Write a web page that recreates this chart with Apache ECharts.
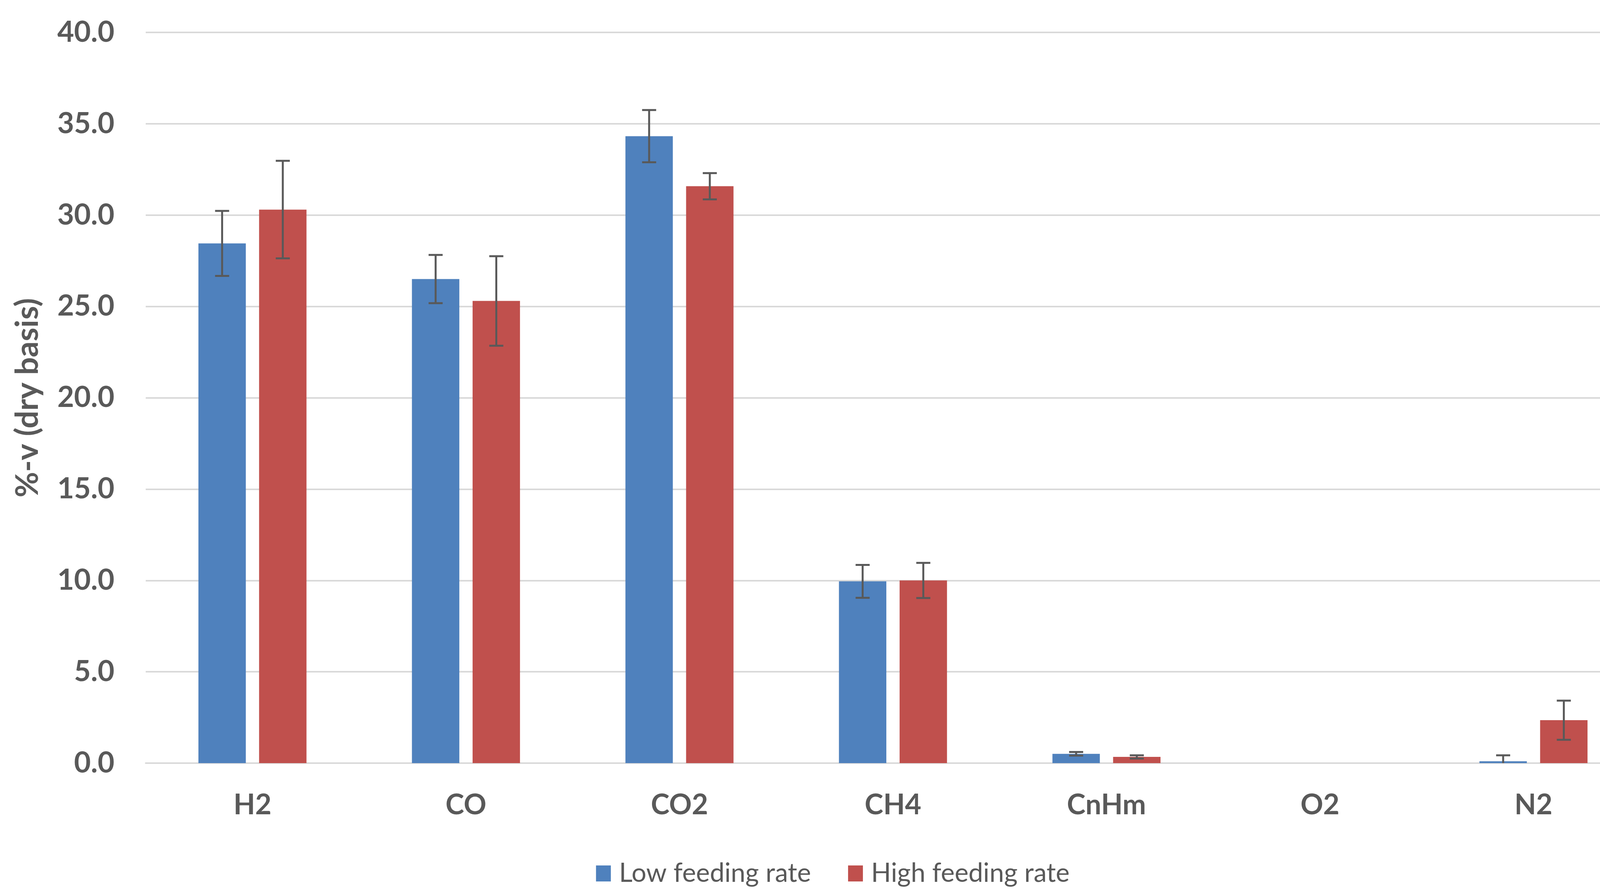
<!DOCTYPE html>
<html>
<head>
<meta charset="utf-8">
<script src="https://cdn.jsdelivr.net/npm/echarts@6/dist/echarts.min.js"></script>
<style>html,body{margin:0;padding:0;background:#fff;}#c{width:4264px;height:2284px;}</style>
</head>
<body>
<div id="c"></div>
<script>
const categories = ['H2', 'CO', 'CO2', 'CH4', 'CnHm', 'O2', 'N2'];
const lowMean  = [28.45, 26.5, 34.32, 9.95, 0.51, 0, 0.1];
const lowErr   = [1.78, 1.32, 1.43, 0.9, 0.1, 0, 0.33];
const highMean = [30.3, 25.3, 31.58, 10.0, 0.34, 0, 2.35];
const highErr  = [2.67, 2.45, 0.72, 0.96, 0.09, 0, 1.07];
const yTicks = [0, 5, 10, 15, 20, 25, 30, 35, 40];

const BAR_W = 0.222, BAR_GAP = 0.28;
const FONT = 'Lato';

function errData(mean, err) {
  return mean.map((m, i) => [i, m - err[i], m + err[i], err[i]]);
}
function errRender(sign) {
  return function (params, api) {
    if (api.value(3) <= 0) return null;
    const i = api.value(0);
    const band = api.size([1, 0])[0];
    const w = band * BAR_W;
    const off = sign * (w + BAR_GAP * w) / 2;
    const lo = api.coord([i, api.value(1)]);
    const hi = api.coord([i, api.value(2)]);
    const x = lo[0] + off;
    const cap = 18;
    const style = { stroke: '#595959', lineWidth: 5 };
    return {
      type: 'group',
      children: [
        { type: 'line', shape: { x1: x, y1: hi[1], x2: x, y2: lo[1] }, style },
        { type: 'line', shape: { x1: x - cap, y1: hi[1], x2: x + cap, y2: hi[1] }, style },
        { type: 'line', shape: { x1: x - cap, y1: lo[1], x2: x + cap, y2: lo[1] }, style }
      ]
    };
  };
}

const chart = echarts.init(document.getElementById('c'));
chart.setOption({
  backgroundColor: '#ffffff',
  animation: false,
  textStyle: { fontFamily: FONT },
  grid: { left: 373, right: 65, top: 83, bottom: 330, containLabel: false },
  legend: {
    data: ['Low feeding rate', 'High feeding rate'],
    top: 2198,
    left: 'center',
    icon: 'rect',
    itemWidth: 38,
    itemHeight: 41,
    itemGap: 95,
    textStyle: { fontFamily: FONT, fontSize: 67, color: '#595959', padding: [0, 0, 0, 16] }
  },
  xAxis: {
    type: 'category',
    data: categories,
    axisLine: { show: true, lineStyle: { color: '#d9d9d9', width: 4 } },
    axisTick: { show: false },
    axisLabel: { fontFamily: FONT, fontSize: 72, fontWeight: 'bold', color: '#595959', margin: 72 },
    z: 1
  },
  yAxis: {
    type: 'value',
    min: yTicks[0],
    max: yTicks[yTicks.length - 1],
    interval: 5,
    name: '%-v (dry basis)',
    nameLocation: 'middle',
    nameGap: 262,
    nameTextStyle: { fontFamily: FONT, fontSize: 80, fontWeight: 'bold', color: '#595959' },
    axisLine: { show: false },
    axisTick: { show: false },
    splitLine: { lineStyle: { color: '#d9d9d9', width: 4 } },
    axisLabel: { fontFamily: FONT, fontSize: 74, fontWeight: 'bold', color: '#595959', margin: 80,
      formatter: v => v.toFixed(1) }
  },
  series: [
    { name: 'Low feeding rate', type: 'bar', data: lowMean, barWidth: (BAR_W * 100) + '%', barGap: (BAR_GAP * 100) + '%',
      itemStyle: { color: '#4f81bd' }, z: 2 },
    { name: 'High feeding rate', type: 'bar', data: highMean, barWidth: (BAR_W * 100) + '%', barGap: (BAR_GAP * 100) + '%',
      itemStyle: { color: '#c0504d' }, z: 2 },
    { name: 'errLow', type: 'custom', data: errData(lowMean, lowErr), renderItem: errRender(-1), z: 5, clip: true,
      encode: { x: 0, y: [1, 2] } },
    { name: 'errHigh', type: 'custom', data: errData(highMean, highErr), renderItem: errRender(1), z: 5, clip: true,
      encode: { x: 0, y: [1, 2] } }
  ]
});
</script>
</body>
</html>
